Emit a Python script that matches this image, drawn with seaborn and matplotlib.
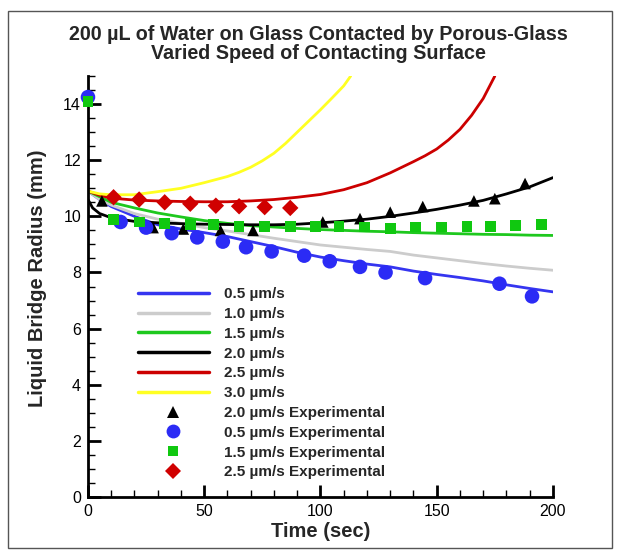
import matplotlib
matplotlib.use("Agg")
import matplotlib.pyplot as plt
from matplotlib.lines import Line2D
from matplotlib.patches import Rectangle
from matplotlib.ticker import MultipleLocator
import numpy as np
import pandas as pd
import seaborn as sns

# ---- model curves: liquid bridge radius (mm) vs time (s) ----
t_model = [0, 5, 10, 20, 30, 40, 50, 60, 70, 80, 90, 100, 110, 120, 130,
           140, 150, 160, 170, 180, 190, 200]
r_05 = [10.9, 10.6, 10.35, 10.0, 9.7, 9.55, 9.42, 9.28, 9.1, 8.92, 8.72, 8.55,
        8.42, 8.3, 8.2, 8.05, 7.93, 7.82, 7.7, 7.56, 7.43, 7.31]
r_10 = [10.9, 10.6, 10.4, 10.1, 9.9, 9.75, 9.6, 9.48, 9.35, 9.22, 9.1, 8.98,
        8.9, 8.82, 8.75, 8.62, 8.52, 8.42, 8.32, 8.23, 8.15, 8.08]
r_15 = [10.9, 10.7, 10.5, 10.3, 10.12, 9.98, 9.85, 9.75, 9.67, 9.62, 9.57, 9.53,
        9.5, 9.47, 9.45, 9.42, 9.4, 9.38, 9.36, 9.35, 9.33, 9.32]
t_20 = [0, 2, 5, 10, 20, 30, 40, 50, 60, 70, 80, 90, 100, 110, 120, 130,
        140, 150, 160, 170, 180, 190, 200]
r_20 = [10.6, 10.3, 10.1, 9.95, 9.82, 9.77, 9.74, 9.72, 9.71, 9.7, 9.7, 9.72,
        9.77, 9.83, 9.9, 10.0, 10.12, 10.25, 10.4, 10.57, 10.8, 11.05, 11.38]
t_25 = [0, 5, 10, 20, 30, 40, 50, 60, 70, 80, 90, 100, 110, 120, 130, 140,
        145, 150, 155, 160, 165, 170, 175]
r_25 = [10.9, 10.75, 10.65, 10.58, 10.55, 10.53, 10.52, 10.52, 10.55, 10.6,
        10.68, 10.78, 10.95, 11.2, 11.55, 11.95, 12.16, 12.4, 12.72, 13.1,
        13.6, 14.2, 15.0]
t_30 = [0, 5, 10, 20, 30, 40, 50, 60, 65, 70, 75, 80, 85, 90, 95, 100, 105,
        110, 113]
r_30 = [10.9, 10.8, 10.77, 10.77, 10.88, 11.0, 11.2, 11.42, 11.57, 11.75,
        11.98, 12.25, 12.6, 13.0, 13.4, 13.8, 14.22, 14.65, 15.0]

# ---- experimental measurements ----
t_exp20 = [6, 28, 41, 57, 71, 101, 117, 130, 144, 166, 175, 188]
r_exp20 = [10.55, 9.6, 9.55, 9.5, 9.5, 9.8, 9.92, 10.15, 10.35, 10.55, 10.63, 11.17]
t_exp05 = [0, 14, 25, 36, 47, 58, 68, 79, 93, 104, 117, 128, 145, 177, 191]
r_exp05 = [14.25, 9.8, 9.6, 9.4, 9.25, 9.1, 8.9, 8.75, 8.6, 8.4, 8.2, 8.0, 7.8,
           7.6, 7.15]
t_exp15 = [0, 11, 22, 33, 44, 54, 65, 76, 87, 98, 108, 119, 130, 141, 152, 163,
           173, 184, 195]
r_exp15 = [14.1, 9.9, 9.8, 9.75, 9.7, 9.7, 9.65, 9.65, 9.63, 9.65, 9.63, 9.62,
           9.58, 9.62, 9.62, 9.63, 9.63, 9.68, 9.7]
t_exp25 = [11, 22, 33, 44, 55, 65, 76, 87]
r_exp25 = [10.68, 10.6, 10.5, 10.45, 10.38, 10.36, 10.33, 10.3]

model_labels = ["0.5 \u00b5m/s", "1.0 \u00b5m/s", "1.5 \u00b5m/s",
                "2.0 \u00b5m/s", "2.5 \u00b5m/s", "3.0 \u00b5m/s"]
exp_labels = ["2.0 \u00b5m/s Experimental", "0.5 \u00b5m/s Experimental",
              "1.5 \u00b5m/s Experimental", "2.5 \u00b5m/s Experimental"]

sns.set_theme(style="white")
plt.rcParams["font.family"] = ["Liberation Sans", "DejaVu Sans"]

fig = plt.figure(figsize=(6.17, 5.51), dpi=100)
ax = fig.add_axes([0.1426, 0.098, 0.7536, 0.764])

model_series = [
    (t_model, r_05, "#3535f0"),
    (t_model, r_10, "#cccccc"),
    (t_model, r_15, "#1ec81e"),
    (t_20, r_20, "#000000"),
    (t_25, r_25, "#cc0000"),
    (t_30, r_30, "#ffff22"),
]
line_handles = []
for (tt, rr, col), lab in zip(model_series, model_labels):
    df = pd.DataFrame({"t": tt, "r": rr})
    sns.lineplot(data=df, x="t", y="r", color=col, lw=2.0, sort=False,
                 estimator=None, ax=ax, zorder=2)
    line_handles.append(Line2D([], [], color=col, lw=2.5, label=lab))

exp_series = [
    (t_exp20, r_exp20, "black", "^", 70),
    (t_exp05, r_exp05, "#2b2bf5", "o", 110),
    (t_exp15, r_exp15, "#10c810", "s", 60),
    (t_exp25, r_exp25, "#d00000", "D", 70),
]
mark_handles = []
for (tt, rr, col, mk, sz), lab in zip(exp_series, exp_labels):
    df = pd.DataFrame({"t": tt, "r": rr})
    sns.scatterplot(data=df, x="t", y="r", color=col, marker=mk, s=sz,
                    edgecolor="none", linewidth=0, ax=ax, zorder=3, clip_on=False)
    mark_handles.append(Line2D([], [], ls="none", marker=mk, color=col,
                               markeredgewidth=0,
                               markersize=np.sqrt(sz) * 0.95, label=lab))

ax.set_xlim(0, 200)
ax.set_ylim(0, 15)
ax.xaxis.set_major_locator(MultipleLocator(50))
ax.xaxis.set_minor_locator(MultipleLocator(10))
ax.yaxis.set_major_locator(MultipleLocator(2))
ax.yaxis.set_minor_locator(MultipleLocator(0.5))
ax.tick_params(which="both", direction="in", colors="black", left=True,
               bottom=True, top=False, right=False)
ax.tick_params(which="major", length=9, width=2, labelsize=11.5, pad=5)
ax.tick_params(which="minor", length=5, width=1)
for side in ["top", "right"]:
    ax.spines[side].set_visible(False)
for side in ["left", "bottom"]:
    ax.spines[side].set_color("black")
    ax.spines[side].set_linewidth(2)

ax.set_xlabel("Time (sec)", fontsize=14.5, fontweight="bold", labelpad=2)
ax.set_ylabel("Liquid Bridge Radius (mm)", fontsize=14.5, fontweight="bold")
ax.yaxis.set_label_coords(-0.088, 0.52)

fig.text(0.516, 1 - 34 / 551, "200 \u00b5L of Water on Glass Contacted by Porous-Glass",
         ha="center", va="center", fontsize=14.2, fontweight="bold")
fig.text(0.516, 1 - 53.5 / 551, "Varied Speed of Contacting Surface",
         ha="center", va="center", fontsize=14.2, fontweight="bold")

leg = ax.legend(handles=line_handles + mark_handles, loc="upper left",
                bbox_to_anchor=(0.095, 0.513), frameon=False,
                prop={"size": 11, "weight": "bold"}, handlelength=4.6,
                handletextpad=1.0, labelspacing=0.38, borderaxespad=0)

# thin outer frame around the figure
fig.patches.append(Rectangle((8 / 617, 3 / 551), 604 / 617, 537 / 551,
                             transform=fig.transFigure, fill=False,
                             edgecolor="#555555", lw=1))

fig.savefig("out.png", dpi=100)
